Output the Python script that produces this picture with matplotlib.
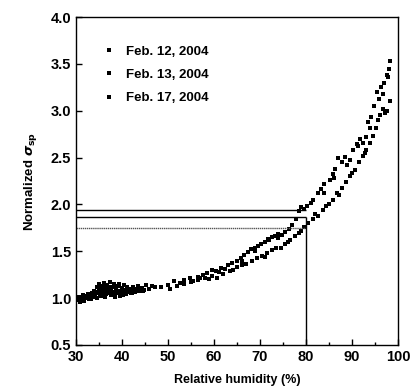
import matplotlib
matplotlib.use("Agg")
import matplotlib.pyplot as plt
from matplotlib.ticker import MultipleLocator

plt.rcParams['font.family'] = ['Liberation Sans', 'DejaVu Sans']
plt.rcParams['font.weight'] = 'bold'

# Feb. 12, 2004 - upper branch
rh_12 = [48.5, 50.0, 51.2, 52.5, 53.5, 54.8, 55.5, 56.5, 57.5, 58.5, 59.5, 60.5,
         61.5, 62.3, 63.0, 64.0, 65.0, 65.8, 66.5, 67.3, 68.0, 68.8, 69.5, 70.2,
         71.0, 71.8, 72.5, 73.2, 74.0, 74.8, 75.5, 76.2, 77.0, 77.8, 78.5, 79.0,
         79.6, 80.3, 81.0, 81.5, 82.5, 83.2, 84.0, 85.2, 85.8, 86.4, 87.0, 87.8,
         88.5, 89.6, 90.3, 91.0, 91.7, 92.4, 93.0, 93.5, 94.2, 94.8, 95.4, 95.9,
         96.4, 97.0, 97.5, 98.0, 98.3, 97.8, 96.8, 94.0, 91.2, 89.0, 86.0, 83.8,
         72.0, 73.8, 69.0, 66.0, 61.0, 57.0]
sp_12 = [1.12, 1.14, 1.18, 1.16, 1.19, 1.21, 1.18, 1.23, 1.25, 1.27, 1.30, 1.29,
         1.32, 1.31, 1.35, 1.37, 1.40, 1.43, 1.46, 1.49, 1.52, 1.54, 1.56, 1.58,
         1.60, 1.63, 1.65, 1.66, 1.64, 1.67, 1.71, 1.74, 1.78, 1.84, 1.93, 1.97,
         1.95, 1.98, 2.01, 2.05, 2.12, 2.17, 2.22, 2.26, 2.33, 2.38, 2.50, 2.45,
         2.51, 2.47, 2.58, 2.64, 2.70, 2.66, 2.72, 2.88, 2.93, 3.05, 3.20, 3.12,
         3.25, 3.30, 3.38, 3.44, 3.53, 3.36, 3.18, 2.82, 2.62, 2.42, 2.28, 2.12,
         1.62, 1.68, 1.50, 1.40, 1.28, 1.22]

# Feb. 13, 2004 - lower branch
rh_13 = [50.5, 52.0, 53.5, 55.0, 56.5, 58.0, 59.5, 60.7, 62.0, 63.5, 65.0, 66.0,
         67.0, 68.2, 69.3, 70.5, 71.5, 72.5, 73.5, 74.5, 75.5, 76.5, 77.5, 78.5,
         79.5, 80.5, 81.5, 82.5, 83.7, 85.0, 85.9, 86.8, 87.8, 88.7, 89.6, 90.6,
         91.5, 92.3, 93.0, 93.8, 94.6, 95.3, 96.0, 96.8, 97.6, 98.2, 97.2, 95.6,
         92.8, 90.0, 87.2, 84.4, 82.0, 79.0, 76.0, 71.0, 64.2, 59.0]
sp_13 = [1.10, 1.13, 1.15, 1.17, 1.19, 1.21, 1.24, 1.22, 1.26, 1.29, 1.33, 1.35,
         1.36, 1.40, 1.43, 1.45, 1.48, 1.51, 1.54, 1.53, 1.58, 1.62, 1.66, 1.70,
         1.76, 1.80, 1.84, 1.88, 1.94, 2.00, 2.05, 2.12, 2.18, 2.24, 2.30, 2.37,
         2.45, 2.52, 2.58, 2.66, 2.73, 2.82, 2.95, 3.02, 3.00, 3.10, 2.98, 2.90,
         2.55, 2.34, 2.10, 1.98, 1.90, 1.72, 1.60, 1.44, 1.30, 1.20]

# Feb. 17, 2004 - dense low-humidity cluster
rh_17 = [30.2, 30.5, 30.8, 31.0, 31.3, 31.5, 31.8, 32.0, 32.3, 32.6, 32.9, 33.1,
         33.4, 33.7, 34.0, 34.2, 34.5, 34.7, 35.0, 35.2, 35.4, 35.6, 35.9, 36.1,
         36.3, 36.6, 36.8, 37.0, 37.3, 37.5, 37.7, 38.0, 38.2, 38.4, 38.7, 38.9,
         39.2, 39.4, 39.6, 39.9, 40.1, 40.4, 40.6, 40.9, 41.1, 41.4, 41.7, 42.0,
         42.3, 42.6, 43.0, 43.4, 43.8, 44.3, 44.8, 45.3, 45.9, 46.5, 47.2,
         30.4, 31.1, 31.9, 32.5, 33.2, 33.9, 34.4, 34.9, 35.3, 35.8, 36.2, 36.7,
         37.1, 37.6, 38.1, 38.6, 39.0, 39.5, 40.0, 40.5, 41.0, 41.5, 42.1, 42.8,
         43.6, 44.5, 34.6, 35.5, 36.4, 37.4, 38.3, 39.3, 40.3, 41.2, 36.0, 38.8]
sp_17 = [0.98, 1.00, 0.96, 1.01, 0.99, 1.03, 0.97, 1.02, 1.00, 1.04, 0.99, 1.03,
         1.06, 1.01, 1.08, 1.03, 1.12, 1.05, 1.15, 1.08, 1.02, 1.13, 1.06, 1.16,
         1.10, 1.04, 1.14, 1.08, 1.17, 1.03, 1.12, 1.07, 1.15, 1.01, 1.10, 1.05,
         1.13, 1.08, 1.02, 1.11, 1.06, 1.14, 1.09, 1.04, 1.12, 1.07, 1.10, 1.05,
         1.12, 1.08, 1.10, 1.13, 1.08, 1.11, 1.09, 1.14, 1.10, 1.13, 1.12,
         1.01, 0.98, 1.00, 1.02, 0.99, 1.04, 1.07, 1.10, 1.04, 1.09, 1.07, 1.11,
         1.05, 1.09, 1.12, 1.06, 1.08, 1.04, 1.09, 1.06, 1.10, 1.08, 1.06, 1.07,
         1.11, 1.08, 1.00, 1.11, 1.01, 1.12, 1.04, 1.15, 1.03, 1.10, 1.14, 1.12]

labels = ['Feb. 12, 2004', 'Feb. 13, 2004', 'Feb. 17, 2004']
ref_levels = [1.94, 1.87, 1.75]
ref_rh = 80

fig = plt.figure(figsize=(4.12, 3.92), dpi=100)
ax = fig.add_axes([0.1845, 0.1199, 0.7816, 0.8367])

for x, y, lab in zip([rh_12, rh_13, rh_17], [sp_12, sp_13, sp_17], labels):
    ax.plot(x, y, 's', color='black', ms=2.6, mew=0, label=lab)

ax.hlines(ref_levels[:2], 30, ref_rh, colors='black', lw=1.0)
ax.hlines(ref_levels[2], 30, ref_rh, colors='#555555', lw=1.0, linestyles=(0, (1, 0.5)))
ax.vlines(ref_rh, 0.5, ref_levels[1], colors='black', lw=1.0)

ax.set_xlim(30, 100)
ax.set_ylim(0.5, 4.0)
ax.xaxis.set_major_locator(MultipleLocator(10))
ax.xaxis.set_minor_locator(MultipleLocator(5))
ax.yaxis.set_major_locator(MultipleLocator(0.5))
ax.tick_params(which='both', direction='in', top=False, right=False)
ax.tick_params(which='major', length=4, width=1, labelsize=10.5)
ax.tick_params(which='minor', length=2.5, width=1)
for s in ax.spines.values():
    s.set_linewidth(1.0)

ax.set_xlabel('Relative humidity (%)', fontsize=9, fontweight='bold', labelpad=7)
ax.set_ylabel(r'Normalized $\sigma_{\rm sp}$', fontsize=9.5, fontweight='bold', labelpad=8)

ax.legend(loc='upper left', frameon=False, fontsize=9.5, markerscale=1.0,
          handlelength=0.8, handletextpad=0.9, labelspacing=0.85,
          bbox_to_anchor=(0.05, 0.95))

fig.savefig('out.png', dpi=100)
